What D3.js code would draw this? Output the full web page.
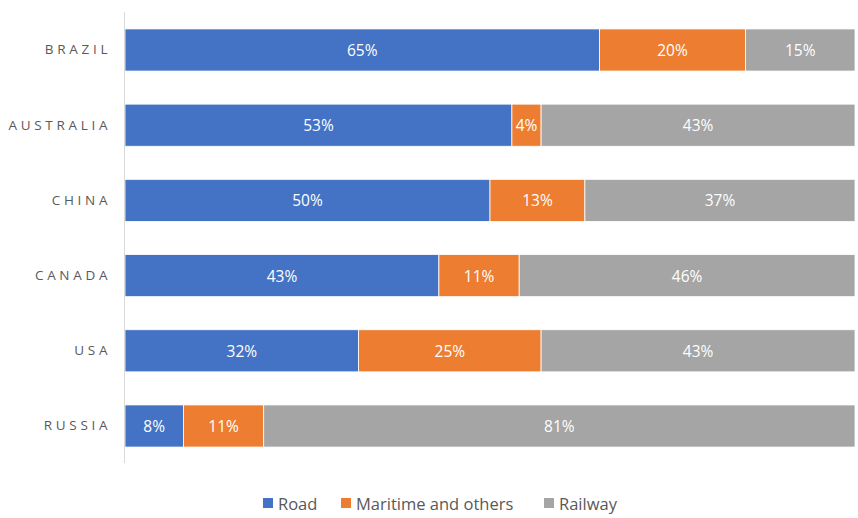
<!DOCTYPE html>
<html><head><meta charset="utf-8">
<script src="https://cdn.jsdelivr.net/npm/d3@7"></script>
<style>body{margin:0;background:#fff}svg{display:block}</style>
</head><body>
<svg id="c" width="858" height="518"></svg>
<script>
const categories = ["BRAZIL","AUSTRALIA","CHINA","CANADA","USA","RUSSIA"];
const seriesNames = ["Road","Maritime and others","Railway"];
const road = [65,53,50,43,32,8];
const maritime = [20,4,13,11,25,11];
const railway = [15,43,37,46,43,81];
const colors = ["#4472c4","#ed7d31","#a5a5a5"];

const data = categories.map((c,i)=>({cat:c, "Road":road[i], "Maritime and others":maritime[i], "Railway":railway[i]}));
const stack = d3.stack().keys(seriesNames)(data);

const svg = d3.select("#c");
const x = d3.scaleLinear().domain([0,100]).range([125,855]);
const y = d3.scaleBand().domain(categories).range([12.4,463.6]).paddingInner(0.44).paddingOuter(0.22);

const g = svg.append("g");
stack.forEach((s,si)=>{
  g.selectAll(null).data(s).enter().append("rect")
    .attr("x",d=>x(d[0])).attr("y",d=>y(d.data.cat))
    .attr("width",d=>x(d[1])-x(d[0])).attr("height",y.bandwidth())
    .attr("fill",colors[si]).attr("stroke","#fff").attr("stroke-width",0.8);
  g.selectAll(null).data(s).enter().append("text")
    .attr("x",d=>(x(d[0])+x(d[1]))/2).attr("y",d=>y(d.data.cat)+y.bandwidth()/2)
    .attr("text-anchor","middle").attr("dominant-baseline","central")
    .attr("fill","#fff").attr("font-family","Open Sans, sans-serif").attr("font-size",15.5)
    .text(d=>(d[1]-d[0])+"%");
});

const axis = d3.axisLeft(y).tickSize(0).tickPadding(17);
const ag = svg.append("g").attr("transform","translate(124.5,0)").call(axis);
ag.select(".domain").attr("stroke","#d9d9d9").attr("stroke-width",1).attr("d","M0,12V463");
ag.selectAll("text").attr("font-family","Open Sans, sans-serif").attr("font-size",13.5)
  .attr("fill","#595959").attr("letter-spacing","3.7px").attr("dx","3.7px");

const leg = svg.append("g");
const legX = [263,341,544];
seriesNames.forEach((n,i)=>{
  leg.append("rect").attr("x",legX[i]).attr("y",498).attr("width",10).attr("height",10).attr("fill",colors[i]);
  leg.append("text").attr("x",legX[i]+15).attr("y",503).attr("dominant-baseline","central")
    .attr("font-family","Open Sans, sans-serif").attr("font-size",16.5).attr("fill","#595959").text(n);
});
</script>
</body></html>
